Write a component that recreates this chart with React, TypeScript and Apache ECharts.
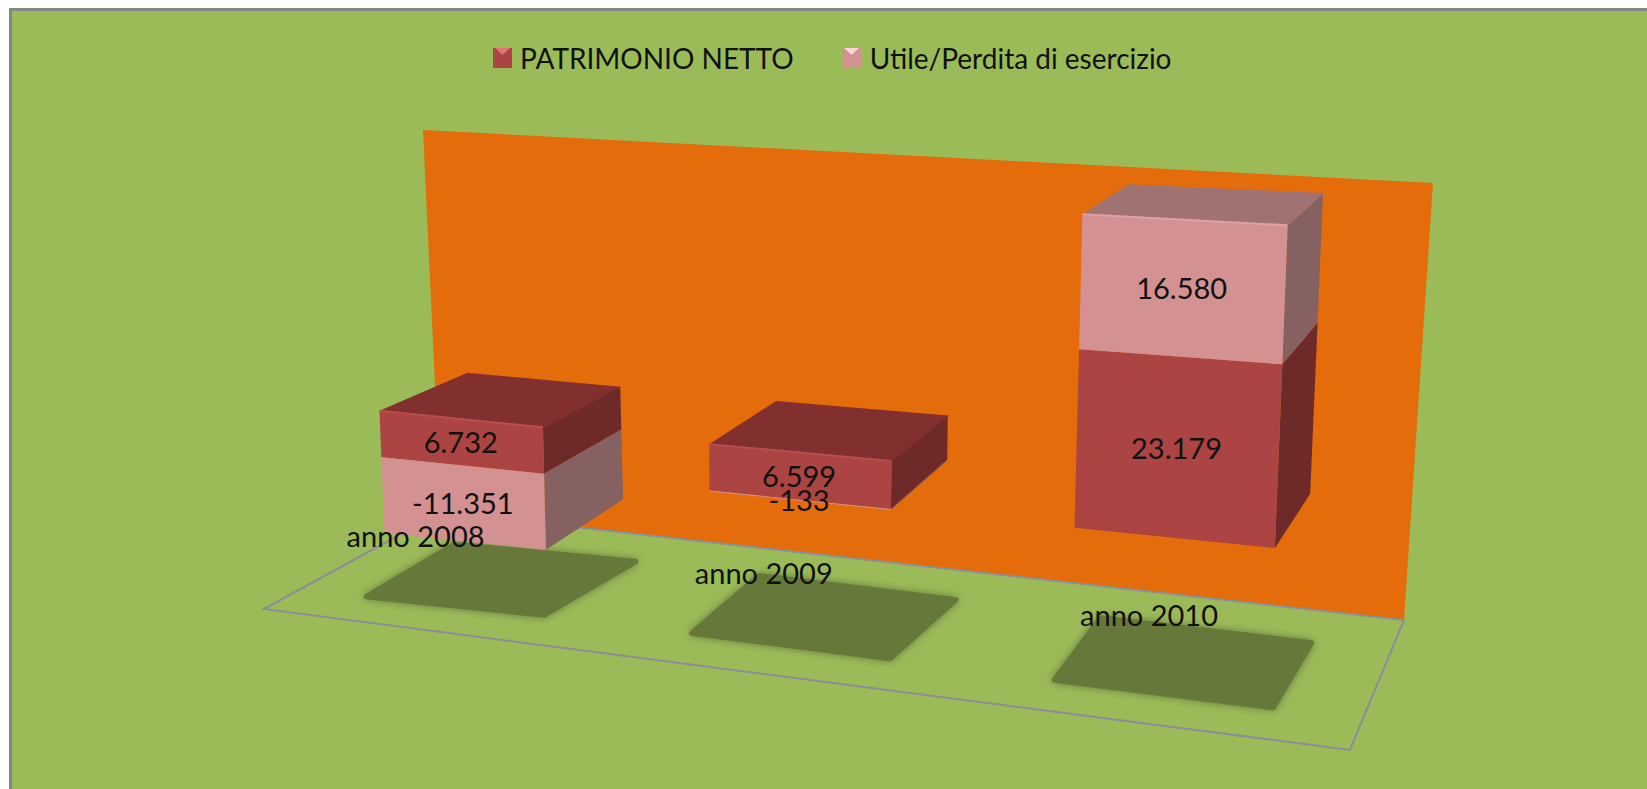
import React, { useEffect, useRef } from "react";
import * as echarts from "echarts";

const categories = ["anno 2008", "anno 2009", "anno 2010"];
const patrimonioNetto = [6732, 6599, 23179];
const utilePerdita = [-11351, -133, 16580];
const seriesNames = ["PATRIMONIO NETTO", "Utile/Perdita di esercizio"];
const axisMin = -20000;
const axisMax = 40000;

const FONT = "Lato, 'Open Sans', sans-serif";
const GRID = { left: 300, top: 100, width: 900, height: 600 };
const BAR_HALF = 0.255;
const SHADOW_HALF = 0.28;

const DARK = { front: "#AB4442", top: "#82302F", side: "#6D2A28", edge: "#B64F4D" };
const LIGHT = { front: "#D39192", top: "#A07272", side: "#866161", edge: "#DDA2A2" };

// Flat axis pixel -> oblique perspective picture pixel.
function project(fx: number, fy: number, w: number) {
  const t = (fx - GRID.left) / (GRID.width / 3) - 0.5;
  const v = axisMin + ((GRID.top + GRID.height - fy) / GRID.height) * (axisMax - axisMin);
  const x0 = 461.5 + 319 * t + 18.5 * t * t;
  const y0 = 465.3 + (x0 - 461.5) * 0.1018;
  const s = (0.0068 + 0.00035 * t * t - 0.00008 * t * t * t) * (1 + v * 1.5e-6);
  const k = -0.00022 + 0.00024 * t;
  const dx = 82.6 - 21 * t;
  const dy = -(43 + 5 * t) + v * 0.00055;
  return [x0 + v * k + w * dx, y0 - v * s + w * dy];
}

function pt(api: any, i: number, frac: number, value: number, w: number) {
  const c = api.coord([i, value]);
  const band = api.size([1, 0])[0];
  return project(c[0] + frac * band, c[1], w);
}

function fmt(v: number) {
  const sign = v < 0 ? "-" : "";
  return sign + String(Math.abs(v)).replace(/\B(?=(\d{3})+$)/g, ".");
}

function segment(serie: number, i: number) {
  const p = patrimonioNetto[i];
  const u = utilePerdita[i];
  if (serie === 0) return { from: 0, to: p, isTop: !(u > 0) };
  if (u >= 0) return { from: p, to: p + u, isTop: true };
  return { from: 0, to: u, isTop: false };
}

function renderSegment(serie: number, colors: typeof DARK) {
  return (params: any, api: any) => {
    const i = params.dataIndex;
    const val = api.value(1);
    const { from, to, isTop } = segment(serie, i);
    const hi = Math.max(from, to);
    const lo = Math.min(from, to);
    const h = BAR_HALF;
    const fl = pt(api, i, -h, lo, 0);
    const fr = pt(api, i, h, lo, 0);
    const tl = pt(api, i, -h, hi, 0);
    const tr = pt(api, i, h, hi, 0);
    const br = pt(api, i, h, lo, 1);
    const btr = pt(api, i, h, hi, 1);
    const btl = pt(api, i, -h, hi, 1);
    const mid = pt(api, i, 0, (from + to) / 2, 0);
    const children: any[] = [
      { type: "polygon", shape: { points: [fr, br, btr, tr] }, style: { fill: colors.side } },
      { type: "polygon", shape: { points: [fl, fr, tr, tl] }, style: { fill: colors.front } },
    ];
    if (isTop) {
      children.push({ type: "polygon", shape: { points: [tl, tr, btr, btl] }, style: { fill: colors.top } });
      children.push({ type: "polyline", shape: { points: [tl, tr] }, style: { fill: "none", stroke: colors.edge, lineWidth: 2 } });
      children.push({ type: "polyline", shape: { points: [tr, btr] }, style: { fill: "none", stroke: colors.top, lineWidth: 1.5 } });
    }
    children.push({
      type: "text",
      z2: 20,
      style: {
        text: fmt(val),
        x: mid[0],
        y: mid[1] - 1,
        align: "center",
        verticalAlign: "middle",
        font: `29px ${FONT}`,
        fill: "#111111",
      },
    });
    return { type: "group", children };
  };
}

function renderShadow(params: any, api: any) {
  const i = params.dataIndex;
  const h = SHADOW_HALF;
  const a = pt(api, i, -h, axisMin, -0.15);
  const b = pt(api, i, h, axisMin, -0.15);
  const c = pt(api, i, h + 0.05 - 0.02 * i, axisMin, 0.85);
  const d = pt(api, i, -h, axisMin, 0.85);
  return {
    type: "polygon",
    shape: { points: [a, b, c, d] },
    style: {
      fill: "#66793A",
      stroke: "#66793A",
      lineWidth: 5,
      lineJoin: "round",
      shadowBlur: 8,
      shadowColor: "#66793A",
    },
  };
}

function renderCategory(params: any, api: any) {
  const i = params.dataIndex;
  const p = pt(api, i, 0, axisMin * 0.47, 0);
  return {
    type: "text",
    style: {
      text: categories[i],
      x: p[0] - 48 + 13 * i,
      y: p[1] + 7,
      align: "center",
      verticalAlign: "middle",
      font: `29px ${FONT}`,
      fill: "#111111",
    },
  };
}

export default function App() {
  const ref = useRef<HTMLDivElement | null>(null);
  useEffect(() => {
    document.body.style.margin = "0";
    const chart = echarts.init(ref.current!, null, { renderer: "svg" });
    const indices = categories.map((_, i) => [i, 0]);
    chart.setOption({
      animation: false,
      backgroundColor: "#FFFFFF",
      grid: GRID,
      xAxis: { type: "category", data: categories, show: false },
      yAxis: { type: "value", min: axisMin, max: axisMax, interval: 20000, show: false },
      legend: {
        data: seriesNames,
        left: 493,
        top: 44,
        itemWidth: 19,
        itemHeight: 20,
        itemGap: 49,
        selectedMode: false,
        icon: "rect",
        padding: 0,
        textStyle: { fontFamily: FONT, fontSize: 28, color: "#111111", padding: [0, 0, 0, 3] },
      },
      graphic: [
        { type: "rect", z: 0, silent: true, shape: { x: 10.5, y: 9.5, width: 1800, height: 1000 }, style: { fill: "#9BBB59", stroke: "#868686", lineWidth: 3 } },
        { type: "polygon", z: 1, silent: true, shape: { points: [[423, 130], [1433, 183], [1404, 620], [441, 512]] }, style: { fill: "#E46C0A" } },
        { type: "polygon", z: 1, silent: true, shape: { points: [[441, 512], [1404, 620], [1350, 750], [264, 609]] }, style: { fill: "none", stroke: "#8A8E96", lineWidth: 2 } },
        { type: "polygon", z: 10, silent: true, shape: { points: [[495, 48], [510, 48], [502.5, 55]] }, style: { fill: "#E57373" } },
        { type: "polygon", z: 10, silent: true, shape: { points: [[844, 48], [859, 48], [851.5, 55]] }, style: { fill: "#F5D8D8" } },
      ],
      series: [
        { type: "custom", name: "shadow", z: 2, silent: true, clip: false, renderItem: renderShadow, data: indices },
        { type: "custom", name: seriesNames[0], z: 3, silent: true, itemStyle: { color: DARK.front }, renderItem: renderSegment(0, DARK), data: patrimonioNetto.map((v, i) => [i, v]) },
        { type: "custom", name: seriesNames[1], z: 3, silent: true, itemStyle: { color: LIGHT.front }, renderItem: renderSegment(1, LIGHT), data: utilePerdita.map((v, i) => [i, v]) },
        { type: "custom", name: "categories", z: 4, silent: true, renderItem: renderCategory, data: indices },
      ],
    });
    return () => chart.dispose();
  }, []);
  return <div ref={ref} style={{ width: 1647, height: 789 }} />;
}
